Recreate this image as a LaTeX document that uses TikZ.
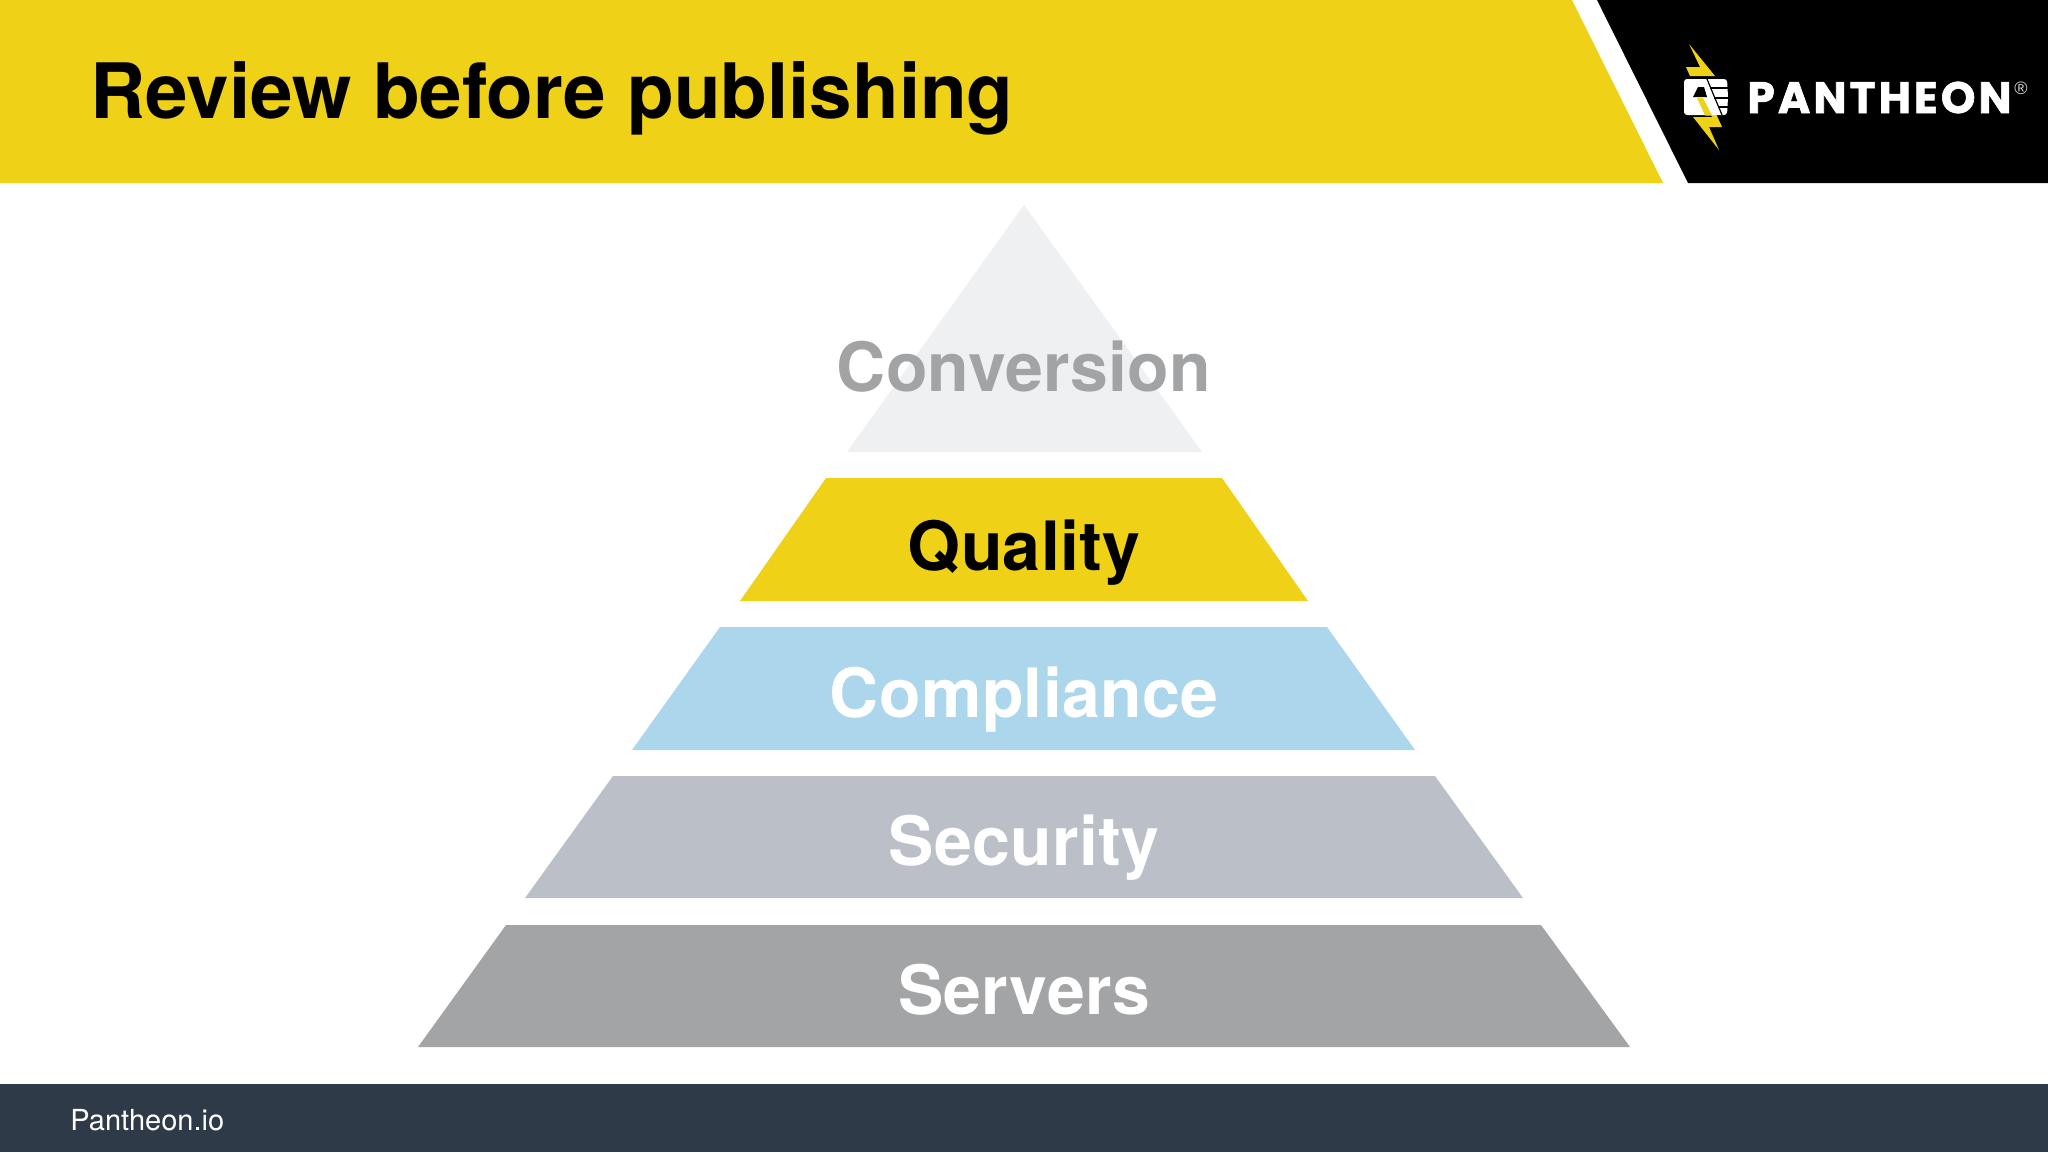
\documentclass[tikz,border=0pt]{standalone}
\usepackage{fontspec}
\setmainfont{TeX Gyre Heros}
\newfontfamily\logofont[LetterSpace=7,FakeBold=1.5]{Poppins}
\newfontfamily\regfont{Liberation Sans}
\definecolor{brandyellow}{HTML}{EFD118}
\definecolor{footerblue}{HTML}{2F3A48}
\definecolor{tierpale}{HTML}{EFF0F2}
\definecolor{tierblue}{HTML}{ABD6EC}
\definecolor{tiersilver}{HTML}{BBC0C8}
\definecolor{tiergrey}{HTML}{A3A4A6}
\definecolor{convtext}{HTML}{A2A3A5}
\tikzset{
  x=0.5pt,y=-0.5pt,
  tierlabel/.style={font=\bfseries\fontsize{34}{34}\selectfont\addfontfeature{LetterSpace=0.4},inner sep=0pt,anchor=base},
  boltpart/.style={fill=brandyellow,draw=none},
  fistline/.style={draw=black,line width=0.6pt},
}
\begin{document}
\begin{tikzpicture}
\useasboundingbox (0,0) rectangle (2048,1152);
\fill[white] (0,0) rectangle (2048,1152);
% header
\fill[brandyellow] (0,0) -- (1572,0) -- (1663,183) -- (0,183) -- cycle;
\fill[black] (1597,0) -- (2048,0) -- (2048,183) -- (1688,183) -- cycle;
\node[anchor=base west,inner sep=0pt,font=\bfseries\fontsize{38.2}{38.2}\selectfont] (title) at (90,118) {Review before publishing};
% logo bolt
\fill[boltpart] (1689,44) -- (1715,76) -- (1690,76) -- (1686,67) -- (1700,67) -- cycle;
\fill[boltpart] (1693,117) -- (1712,117) -- (1702,96) -- (1708,96) -- (1722,127) -- (1709,127) -- (1719,150) -- cycle;
% logo fist
\fill[white,rounded corners=1.5pt] (1684,79) -- (1727,79) -- (1728,97) -- (1727,115) -- (1684,115) -- cycle;
\fill[black] (1698,87) -- (1704,87) -- (1707,97) -- (1693,97) -- cycle;
\fill[boltpart] (1697,98) -- (1703,98) -- (1712,115.5) -- (1705,115.5) -- cycle;
\draw[fistline] (1707,79) -- (1714,96) -- (1722,115);
\draw[fistline] (1710,88) -- (1728,88);
\draw[fistline] (1714,98) -- (1728,98);
\draw[fistline] (1718,107) -- (1728,107);
\node[anchor=base west,inner sep=0pt,text=white,font=\logofont\bfseries\fontsize{22}{22}\selectfont] (logo) at (1747,113) {PANTHEON};
\node[inner sep=0pt,text=white!85!black,font=\regfont\fontsize{9}{9}\selectfont] (reg) at (2021,88) {®};
% pyramid
\fill[tierpale] (1024,205) -- (1202,452) -- (847,452) -- cycle;
\fill[brandyellow] (826,478) -- (1222,478) -- (1308,601) -- (740,601) -- cycle;
\fill[tierblue] (720,627) -- (1327,627) -- (1415,750) -- (632,750) -- cycle;
\fill[tiersilver] (613,776) -- (1435,776) -- (1523,898) -- (525,898) -- cycle;
\fill[tiergrey] (506,925) -- (1541,925) -- (1630,1047) -- (418,1047) -- cycle;
\node[tierlabel,text=convtext] (conversion) at (1024,391) {Conversion};
\node[tierlabel,text=black] (quality) at (1024,570) {Quality};
\node[tierlabel,text=white] (compliance) at (1024,717) {Compliance};
\node[tierlabel,text=white] (security) at (1024,865) {Security};
\node[tierlabel,text=white] (servers) at (1024,1014) {Servers};
% footer
\fill[footerblue] (0,1084) rectangle (2048,1152);
\node[anchor=base west,inner sep=0pt,text=white,font=\fontsize{14.5}{14.5}\selectfont] (site) at (70,1130) {Pantheon.io};
\end{tikzpicture}
\end{document}
